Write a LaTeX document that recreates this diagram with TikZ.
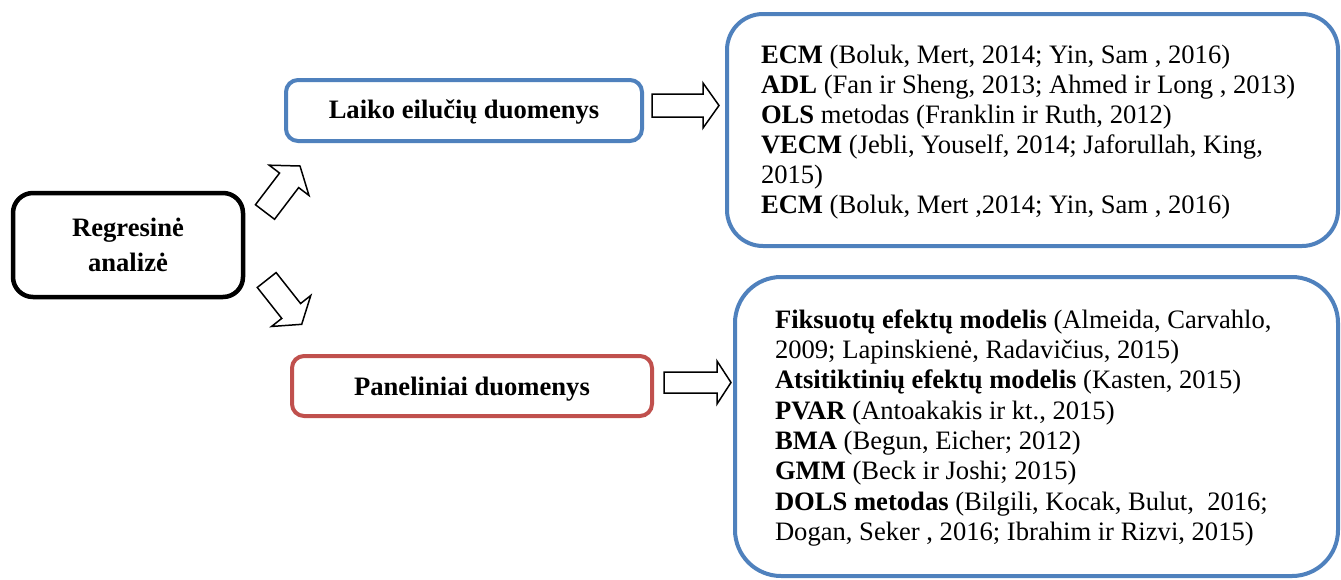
\documentclass[tikz,border=0pt]{standalone}
\usepackage{fontspec}
\setmainfont{Liberation Serif}
\usetikzlibrary{calc}
\definecolor{boxblue}{HTML}{4F81BD}
\definecolor{boxred}{HTML}{C0504D}
\tikzset{
  every node/.style={inner sep=0pt, outer sep=0pt, font=\fontsize{26.6}{30.4}\selectfont},
  frame/.style={draw, fill=white, rectangle},
  labeltext/.style={anchor=base, font=\fontsize{26.6}{30.4}\selectfont\bfseries},
  linetext/.style={anchor=base west},
  blockarrow/.style={draw=black, fill=white, line width=1.5pt, line join=miter}
}
\newcommand{\blockarr}[6]{%
  \coordinate (#1-t) at #2;
  \coordinate (#1-a) at #3;
  \coordinate (#1-b) at ($(#1-a)!#6pt!(#1-t)$);
  \draw[blockarrow]
    ($(#1-t)!#4pt!90:(#1-a)$) -- ($(#1-b)!#4pt!-90:(#1-t)$) --
    ($(#1-b)!#5pt!-90:(#1-t)$) -- (#1-a) --
    ($(#1-b)!#5pt!90:(#1-t)$) -- ($(#1-b)!#4pt!90:(#1-t)$) --
    ($(#1-t)!#4pt!-90:(#1-a)$) -- cycle;
}
\begin{document}
\begin{tikzpicture}[x=1pt,y=-1pt]
\useasboundingbox[fill=white] (0,0) rectangle (1341,579);

% boxes
\node[frame, draw=black, line width=4.5pt, rounded corners=20pt,
      minimum width=230pt, minimum height=104pt] (reg) at (128,245) {};
\node[frame, draw=boxblue, line width=4pt, rounded corners=12pt,
      minimum width=356pt, minimum height=61pt] (laiko) at (464,110.5) {};
\node[frame, draw=boxred, line width=4pt, rounded corners=12pt,
      minimum width=360pt, minimum height=60pt] (panel) at (472,386) {};
\node[frame, draw=boxblue, line width=4pt, rounded corners=36pt,
      minimum width=611pt, minimum height=232pt] (tsbox) at (1032.5,130) {};
\node[frame, draw=boxblue, line width=4pt, rounded corners=46pt,
      minimum width=603pt, minimum height=299pt] (pdbox) at (1036.5,426.5) {};

% labels
\node[labeltext] (reg1) at (128,236) {Regresinė};
\node[labeltext] (reg2) at (128,271) {analizė};
\node[labeltext] (laikot) at (464,118) {Laiko eilučių duomenys};
\node[labeltext] (panelt) at (472,395) {Paneliniai duomenys};

% block arrows
\blockarr{au}{(265,212)}{(300,166)}{12}{25}{18}
\blockarr{ad}{(266.7,280)}{(301.7,324.3)}{12}{25}{17}
\blockarr{ar}{(652,105.5)}{(719,105.5)}{11.5}{22.5}{16}
\blockarr{br}{(664,382.5)}{(731,382.5)}{10.5}{21.5}{14}

% top list
\foreach \txt [count=\i] in {
  {\textbf{ECM} (Boluk, Mert, 2014; Yin, Sam , 2016)},
  {\textbf{ADL} (Fan ir Sheng, 2013; Ahmed ir Long , 2013)},
  {\textbf{OLS} metodas (Franklin ir Ruth, 2012)},
  {\textbf{VECM} (Jebli, Youself, 2014; Jaforullah, King,},
  {2015)},
  {\textbf{ECM} (Boluk, Mert ,2014; Yin, Sam , 2016)}}
  \node[linetext] (ts\i) at (761, {63.3+(\i-1)*30.0}) {\txt};

% bottom list
\foreach \txt [count=\i] in {
  {\textbf{Fiksuotų efektų modelis} (Almeida, Carvahlo,},
  {2009; Lapinskienė, Radavičius, 2015)},
  {\textbf{Atsitiktinių efektų modelis} (Kasten, 2015)},
  {\textbf{PVAR} (Antoakakis ir kt., 2015)},
  {\textbf{BMA} (Begun, Eicher; 2012)},
  {\textbf{GMM} (Beck ir Joshi; 2015)},
  {\textbf{DOLS metodas} (Bilgili, Kocak, Bulut,\ \ 2016;},
  {Dogan, Seker , 2016; Ibrahim ir Rizvi, 2015)}}
  \node[linetext] (pd\i) at (775, {328.3+(\i-1)*30.3}) {\txt};
\end{tikzpicture}
\end{document}
